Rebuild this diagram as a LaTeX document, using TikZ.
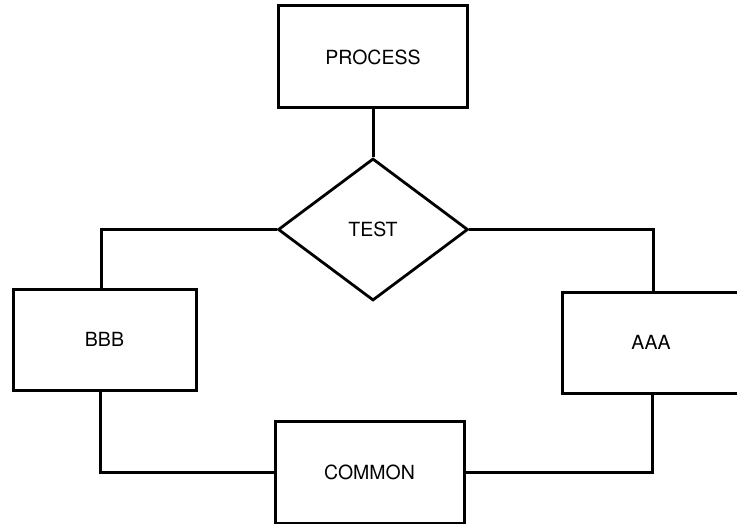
\documentclass[tikz,border=0pt]{standalone}
\usepackage{fontspec}
\setmainfont{TeX Gyre Heros}
\usetikzlibrary{shapes.geometric}
\begin{document}
\begin{tikzpicture}[x=1pt,y=-1pt,
  box/.style={draw,line width=3pt,rectangle,inner sep=0pt,font=\fontsize{19.5}{22}\selectfont},
  testdia/.style={draw,line width=2.8pt,diamond,aspect=1.338,minimum width=190pt,minimum height=142pt,inner sep=0pt,font=\fontsize{19.5}{22}\selectfont},
  link/.style={line width=3pt,line join=miter}]
\useasboundingbox (0,0) rectangle (737,524);
\clip (0,0) rectangle (737,524);
\node[box,minimum width=189pt,minimum height=102pt] (process) at (373,57) {PROCESS};
\node[testdia] (test) at (373,229.5) {TEST};
\node[box,minimum width=183pt,minimum height=101pt] (bbb) at (104.5,339.5) {BBB};
\node[box,minimum width=178pt,minimum height=101pt] (aaa) at (651,342.5) {AAA};
\node[box,minimum width=189pt,minimum height=102pt] (common) at (369.5,472) {COMMON};
\draw[link] (process.south) -- (test.north);
\draw[link] (test.west) -| ([xshift=-3pt]bbb.north);
\draw[link] (test.east) -| ([xshift=2pt]aaa.north);
\draw[link] ([xshift=-4pt]bbb.south) |- (common.west);
\draw[link] (common.east) -| ([xshift=1pt]aaa.south);
\end{tikzpicture}
\end{document}
